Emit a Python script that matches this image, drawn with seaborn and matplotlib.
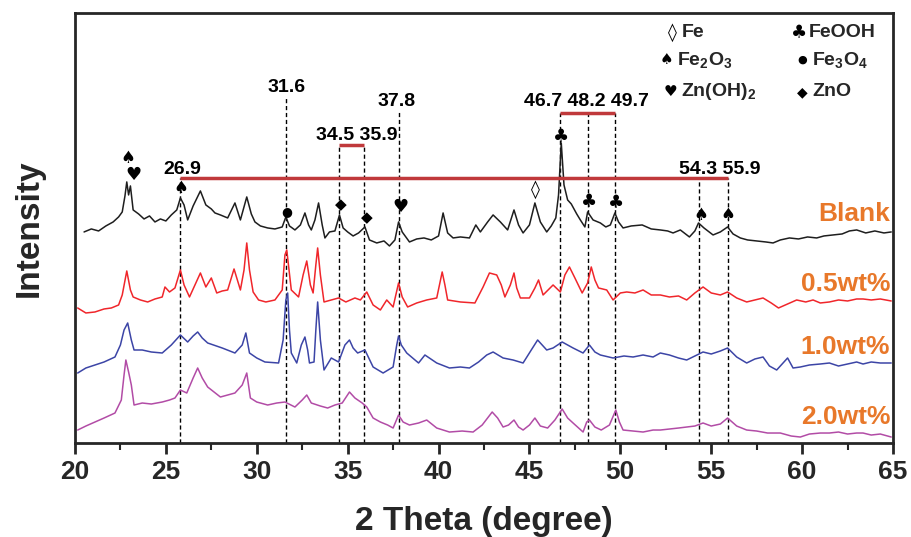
import matplotlib
matplotlib.use("Agg")
import matplotlib.pyplot as plt
import seaborn as sns
import pandas as pd

# ---------------- data (2-theta in degrees, intensity in arbitrary stacked units) ----------------
blank_x = [20.5, 20.9, 21.3, 21.7, 22.1, 22.4, 22.6, 22.75, 22.85, 22.95, 23.05, 23.2, 23.5, 23.8, 24.1,
           24.4, 24.7, 25.0, 25.3, 25.6, 25.8, 26.0, 26.2, 26.5, 26.9, 27.2, 27.5, 27.7, 28.0, 28.4,
           28.8, 29.1, 29.45, 29.7, 29.9, 30.2, 30.6, 31.0, 31.4, 31.6, 31.8, 32.1, 32.4, 32.65, 32.85,
           33.0, 33.2, 33.4, 33.6, 33.75, 34.0, 34.3, 34.55, 34.75, 35.0, 35.3, 35.6, 35.95, 36.2, 36.6,
           37.0, 37.3, 37.6, 37.8, 38.0, 38.4, 38.8, 39.2, 39.6, 40.0, 40.25, 40.5, 40.8, 41.2, 41.7,
           42.05, 42.3, 42.7, 43.0, 43.4, 43.8, 44.15, 44.4, 44.65, 45.0, 45.3, 45.6, 45.95, 46.2, 46.45,
           46.6, 46.75, 46.9, 47.1, 47.3, 47.6, 47.8, 48.05, 48.2, 48.5, 48.9, 49.2, 49.45, 49.7, 49.9,
           50.15, 50.6, 51.2, 51.7, 52.2, 52.6, 52.9, 53.3, 53.8, 54.1, 54.3, 54.6, 55.1, 55.5, 55.9,
           56.2, 56.6, 57.0, 57.5, 58.0, 58.4, 58.8, 59.3, 59.8, 60.3, 60.8, 61.2, 61.7, 62.2, 62.6,
           63.0, 63.5, 64.0, 64.5, 64.9]
blank_y = [211, 214, 212, 217, 221, 226, 231, 247, 261, 248, 257, 233, 229, 224, 227,
           221, 224, 222, 228, 233, 245, 238, 223, 237, 252, 238, 234, 230, 228, 225,
           240, 223, 246, 229, 221, 217, 215, 214, 216, 226, 217, 213, 218, 230, 218,
           213, 223, 240, 218, 205, 211, 212, 228, 215, 211, 207, 210, 216, 203, 200,
           202, 197, 203, 221, 211, 201, 204, 205, 203, 207, 230, 210, 205, 206, 205,
           218, 211, 221, 228, 221, 213, 233, 218, 210, 218, 240, 221, 211, 217, 225,
           248, 300, 258, 243, 239, 229, 223, 216, 231, 223, 220, 216, 218, 230, 221,
           215, 217, 218, 214, 213, 212, 210, 213, 206, 212, 220, 215, 208, 211, 216,
           209, 205, 203, 202, 201, 200, 203, 205, 204, 206, 205, 207, 208, 209, 212,
           213, 210, 212, 210, 211]

w05_x = [20.15, 20.6, 21.1, 21.6, 22.0, 22.4, 22.6, 22.85, 23.05, 23.2, 23.6, 24.0, 24.4, 24.8, 24.95,
         25.2, 25.5, 25.8, 26.0, 26.3, 26.6, 26.9, 27.2, 27.5, 27.8, 28.1, 28.4, 28.75, 29.1, 29.3,
         29.45, 29.6, 29.8, 30.1, 30.5, 31.0, 31.4, 31.55, 31.65, 31.9, 32.3, 32.55, 32.75, 32.95, 33.1,
         33.25, 33.35, 33.5, 33.7, 34.1, 34.5, 34.9, 35.4, 35.7, 36.05, 36.4, 36.8, 37.15, 37.5, 37.8,
         38.0, 38.3, 38.8, 39.35, 39.9, 40.05, 40.2, 40.35, 40.5, 41.2, 42.0, 42.45, 42.8, 43.2, 43.45,
         43.65, 43.95, 44.15, 44.3, 44.5, 45.0, 45.3, 45.5, 45.75, 46.3, 46.7, 46.95, 47.2, 47.5, 47.9,
         48.2, 48.4, 48.6, 48.8, 49.25, 49.6, 50.0, 50.35, 50.8, 51.25, 51.7, 52.2, 52.7, 53.2, 53.65,
         54.1, 54.55, 55.0, 55.5, 55.9, 56.4, 56.95, 57.4, 57.85, 58.3, 58.7, 59.2, 59.7, 60.2, 60.6,
         61.0, 61.5, 62.0, 62.5, 63.0, 63.35, 63.8, 64.3, 64.9]
w05_y = [135, 130, 131, 134, 135, 138, 148, 172, 153, 146, 143, 141, 144, 146, 156,
         151, 155, 173, 158, 146, 158, 170, 156, 165, 150, 152, 153, 174, 153, 173,
         200, 173, 151, 143, 141, 143, 153, 188, 193, 153, 146, 168, 182, 158, 150,
         178, 195, 168, 141, 143, 145, 141, 145, 143, 151, 138, 133, 143, 136, 160,
         146, 136, 140, 143, 145, 158, 171, 158, 143, 141, 140, 156, 170, 168, 158,
         146, 158, 170, 155, 145, 145, 155, 163, 148, 158, 151, 168, 176, 165, 150,
         160, 176, 163, 155, 153, 143, 150, 151, 150, 153, 148, 148, 146, 147, 143,
         150, 156, 150, 148, 151, 145, 141, 143, 145, 140, 135, 139, 143, 141, 143,
         140, 141, 143, 142, 144, 144, 143, 144, 142]

w10_x = [20.15, 20.6, 21.1, 21.6, 22.2, 22.5, 22.7, 22.9, 23.1, 23.25, 23.7, 24.2, 24.8, 25.3, 25.8,
         26.2, 26.5, 26.75, 27.0, 27.3, 28.1, 28.8, 29.2, 29.4, 29.6, 30.0, 30.45, 31.2, 31.45, 31.6,
         31.7, 31.8, 31.9, 32.2, 32.45, 32.65, 32.8, 32.9, 33.15, 33.25, 33.35, 33.5, 33.7, 34.1, 34.5,
         34.85, 35.1, 35.3, 35.55, 35.95, 36.4, 36.95, 37.5, 37.7, 37.8, 37.95, 38.25, 38.9, 39.25, 39.9,
         40.6, 41.2, 41.7, 42.2, 42.65, 43.0, 43.55, 44.1, 44.65, 45.1, 45.45, 45.95, 46.3, 46.8, 47.1,
         47.4, 47.95, 48.3, 48.6, 48.9, 49.6, 50.2, 50.7, 51.25, 51.8, 52.2, 52.7, 53.2, 53.65, 54.1,
         54.55, 55.0, 55.5, 55.9, 56.4, 56.95, 57.4, 57.85, 58.2, 58.6, 58.9, 59.2, 59.5, 59.9, 60.4,
         61.0, 61.5, 62.0, 62.5, 63.0, 63.35, 63.8, 64.3, 64.9]
w10_y = [70, 75, 78, 81, 86, 98, 113, 120, 103, 93, 93, 91, 90, 98, 108,
         101, 107, 111, 105, 100, 95, 90, 98, 110, 90, 85, 81, 80, 103, 143,
         150, 113, 90, 80, 98, 106, 93, 80, 81, 113, 141, 103, 73, 85, 81,
         98, 103, 95, 90, 93, 76, 70, 76, 98, 107, 98, 90, 80, 88, 80,
         75, 76, 75, 81, 88, 91, 85, 83, 80, 93, 103, 93, 95, 101, 98,
         95, 90, 98, 91, 88, 85, 87, 86, 88, 86, 90, 88, 85, 83, 87,
         91, 89, 92, 95, 86, 80, 84, 86, 77, 73, 79, 85, 75, 76, 78,
         79, 80, 77, 79, 81, 79, 81, 80, 80]

w20_x = [20.15, 20.6, 21.1, 21.6, 22.2, 22.55, 22.7, 22.8, 22.95, 23.1, 23.25, 23.7, 24.2, 24.8, 25.2,
         25.5, 25.8, 26.15, 26.5, 26.75, 27.0, 27.3, 28.0, 28.8, 29.2, 29.45, 29.65, 30.0, 30.6, 31.1,
         31.55, 32.1, 32.5, 32.75, 33.0, 33.5, 33.9, 34.3, 34.7, 35.1, 35.4, 35.8, 36.05, 36.4, 36.8,
         37.2, 37.5, 37.8, 38.05, 38.4, 38.9, 39.35, 39.9, 40.6, 41.3, 41.9, 42.4, 42.95, 43.25, 43.55,
         43.85, 44.15, 44.4, 44.65, 45.0, 45.3, 45.6, 46.0, 46.4, 46.8, 47.1, 47.4, 47.95, 48.15, 48.3,
         48.6, 48.95, 49.4, 49.75, 49.95, 50.15, 50.7, 51.25, 51.8, 52.2, 52.7, 53.2, 53.65, 54.1, 54.55,
         55.0, 55.5, 55.9, 56.4, 56.95, 57.5, 58.1, 58.8, 59.4, 59.9, 60.4, 61.0, 61.5, 62.0, 62.5,
         63.0, 63.35, 63.8, 64.3, 64.9]
w20_y = [13, 17, 21, 25, 30, 43, 68, 83, 71, 58, 38, 40, 39, 41, 43,
         45, 53, 50, 65, 75, 65, 56, 46, 50, 58, 70, 45, 41, 38, 40,
         41, 36, 43, 48, 40, 37, 35, 38, 40, 51, 45, 40, 36, 25, 21,
         18, 15, 28, 21, 18, 20, 23, 15, 11, 12, 11, 18, 31, 25, 16,
         18, 23, 16, 13, 18, 25, 17, 15, 23, 34, 25, 20, 11, 21, 23,
         16, 13, 18, 33, 21, 13, 12, 11, 13, 13, 14, 15, 16, 17, 20,
         17, 19, 25, 17, 13, 12, 10, 10, 7, 6, 9, 10, 10, 11, 9,
         10, 10, 8, 9, 6]

sample_names = ["Blank", "0.5wt%", "1.0wt%", "2.0wt%"]
sample_colors = ["#1e1e1e", "#f0262b", "#3c45a6", "#b24ca6"]
label_y = [229, 159, 96, 26]

# reference peak lines
peak_pos = [25.8, 31.6, 34.5, 35.9, 37.8, 46.7, 48.2, 49.7, 54.3, 55.9]
peak_top = [265, 346, 298, 298, 333, 330, 330, 330, 265, 265]
peak_text = ["26.9", "31.6", "34.5 35.9", "37.8", "46.7 48.2 49.7", "54.3 55.9"]
peak_text_x = [25.9, 31.66, 35.5, 37.7, 48.16, 55.48]
peak_text_y = [273, 355, 307, 341, 341, 273]

# red brackets: (x start, x end, y)
bracket_x0 = [25.8, 34.5, 46.7]
bracket_x1 = [55.9, 35.9, 49.7]
bracket_y = [265, 298, 330]

# phase symbols on the Blank pattern
sym_char = ["\u2660", "\u2665", "\u2660", "\u25cf", "\u25c6", "\u25c6", "\u2665", "\u25ca",
            "\u2663", "\u2663", "\u2663", "\u2660", "\u2660"]
sym_x = [22.92, 23.22, 25.83, 31.66, 34.63, 36.06, 37.93, 45.3, 46.73, 48.27, 49.76, 54.4, 55.92]
sym_y = [285, 268, 255, 231, 238, 225, 236, 253, 306, 241, 240, 228, 228]
sym_size = [12, 13, 12, 9, 11, 11, 13, 13, 13, 13, 13, 12, 12]

# phase key
key_char = ["\u25ca", "\u2663", "\u2660", "\u25cf", "\u2665", "\u25c6"]
key_name = ["Fe", "FeOOH", r"Fe$_\mathbf{2}$O$_\mathbf{3}$", r"Fe$_\mathbf{3}$O$_\mathbf{4}$",
            r"Zn(OH)$_\mathbf{2}$", "ZnO"]
key_x = [52.84, 59.82, 52.56, 59.99, 52.78, 59.99]
key_y = [410, 410, 383, 383, 351, 351]
key_size = [13, 13, 11, 8, 11, 10]

# ---------------- build frame ----------------
frames = []
for name, xs, ys in zip(sample_names, [blank_x, w05_x, w10_x, w20_x], [blank_y, w05_y, w10_y, w20_y]):
    frames.append(pd.DataFrame({"two_theta": xs, "intensity": ys, "sample": name}))
df = pd.concat(frames, ignore_index=True)

sns.set_style("ticks")
plt.rcParams["font.family"] = ["Liberation Sans", "DejaVu Sans"]
plt.rcParams["font.weight"] = "bold"
plt.rcParams["mathtext.fontset"] = "custom"
plt.rcParams["mathtext.bf"] = "Liberation Sans:bold"
plt.rcParams["mathtext.rm"] = "Liberation Sans:bold"
plt.rcParams["mathtext.default"] = "bf"

fig = plt.figure(figsize=(9.12, 5.37), dpi=100)
ax = fig.add_axes([0.0822, 0.175, 0.897, 0.801])

# vertical dashed reference lines
for x, top in zip(peak_pos, peak_top):
    ax.plot([x, x], [0, top], color="black", lw=1.0, ls=(0, (3, 2)), zorder=1)

sns.lineplot(data=df, x="two_theta", y="intensity", hue="sample", hue_order=sample_names,
             palette=sample_colors, estimator=None, sort=False, lw=1.1, legend=False, ax=ax,
             zorder=2)

for x0, x1, y in zip(bracket_x0, bracket_x1, bracket_y):
    ax.plot([x0, x1], [y, y], color="#c0393b", lw=2.5, solid_capstyle="butt", zorder=3)

for t, x, y in zip(peak_text, peak_text_x, peak_text_y):
    ax.text(x, y, t, ha="center", va="center", fontsize=14, fontweight="bold", color="black")

for c, x, y, s in zip(sym_char, sym_x, sym_y, sym_size):
    ax.text(x, y, c, ha="center", va="center", fontsize=s, color="black",
            family=["DejaVu Sans"])

for c, n, x, y, s in zip(key_char, key_name, key_x, key_y, key_size):
    ax.text(x, y, c, ha="center", va="center", fontsize=s, color="black", family=["DejaVu Sans"])
    ax.text(x + 0.55, y, n, ha="left", va="center", fontsize=14, fontweight="bold")

for name, y in zip(sample_names, label_y):
    ax.text(64.85, y, name, ha="right", va="center", fontsize=19, fontweight="bold",
            color="#e8782a")

ax.set_xlim(20, 65)
ax.set_ylim(0, 430)
ax.set_xticks(range(20, 66, 5))
ax.set_xticks([22.5 + 5 * i for i in range(9)], minor=True)
ax.set_yticks([])
ax.tick_params(axis="x", which="major", direction="out", length=8, width=2, labelsize=19, pad=4)
ax.tick_params(axis="x", which="minor", direction="out", length=5, width=1.5)
for lab in ax.get_xticklabels():
    lab.set_fontweight("bold")
for sp in ax.spines.values():
    sp.set_visible(True)
    sp.set_linewidth(2)
ax.set_xlabel("2 Theta (degree)", fontsize=24, fontweight="bold", labelpad=16)
ax.set_ylabel("Intensity", fontsize=24, fontweight="bold", labelpad=22)

fig.savefig("out.png", dpi=100)
